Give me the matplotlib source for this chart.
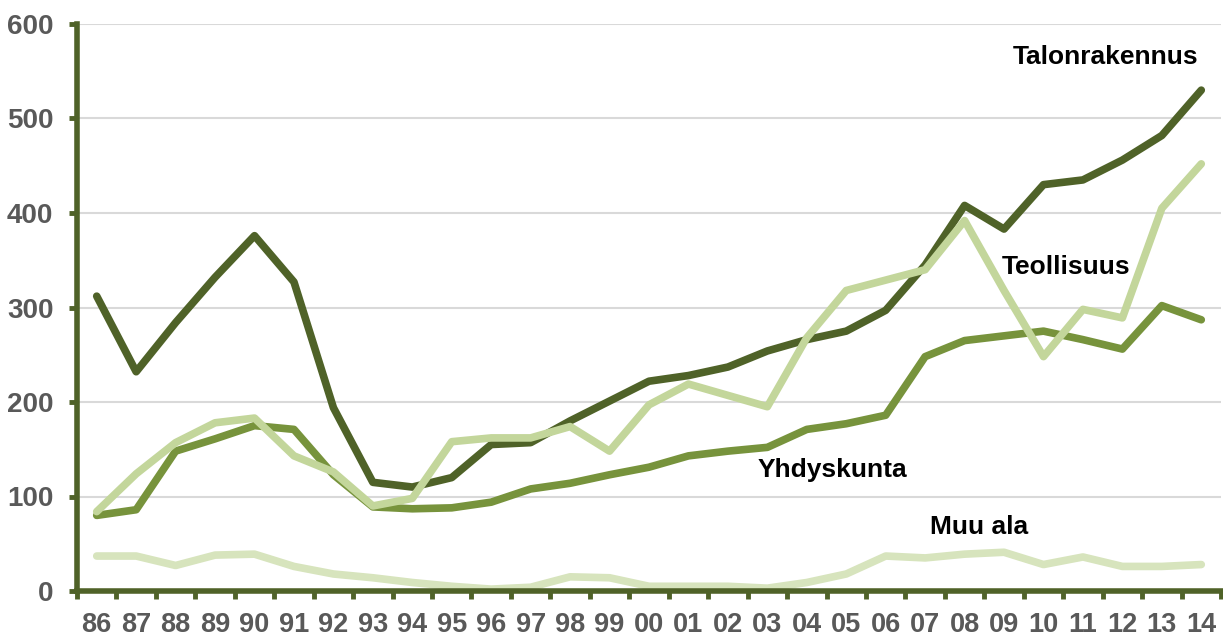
import numpy as np
import matplotlib
matplotlib.use("Agg")
import matplotlib.pyplot as plt

years = ["86", "87", "88", "89", "90", "91", "92", "93", "94", "95", "96", "97", "98", "99",
         "00", "01", "02", "03", "04", "05", "06", "07", "08", "09", "10", "11", "12", "13", "14"]

talonrakennus = [312, 232, 284, 332, 376, 327, 194, 115, 110, 120, 155, 157, 180, 201,
                 222, 228, 237, 254, 266, 275, 297, 345, 408, 383, 430, 435, 456, 482, 530]
teollisuus = [84, 124, 157, 178, 183, 143, 126, 90, 98, 158, 162, 162, 174, 148,
              197, 219, 207, 195, 268, 318, 329, 340, 392, 318, 248, 298, 289, 405, 452]
yhdyskunta = [80, 86, 148, 161, 175, 171, 123, 89, 87, 88, 94, 108, 114, 123,
              131, 143, 148, 152, 171, 177, 186, 248, 265, 270, 275, 266, 256, 302, 287]
muu_ala = [37, 37, 27, 38, 39, 26, 18, 14, 9, 5, 2, 4, 15, 14,
           5, 5, 5, 3, 9, 18, 37, 35, 39, 41, 28, 36, 26, 26, 28]

dark = "#4f6228"
medium = "#77933c"
light = "#c3d69b"
pale = "#d7e4bd"

plt.rcParams["font.family"] = ["Liberation Sans", "DejaVu Sans"]

fig = plt.figure(figsize=(12.23, 6.37), dpi=100)
ax = fig.add_axes([77 / 1223, 1 - 591 / 637, (1221 - 77) / 1223, (591 - 24) / 637])

x = np.arange(len(years))
lw = 5.5
style = dict(lw=lw, solid_capstyle="round", solid_joinstyle="round")
ax.plot(x, muu_ala, color=pale, zorder=3, **style)
ax.plot(x, yhdyskunta, color=medium, zorder=4, **style)
ax.plot(x, talonrakennus, color=dark, zorder=5, **style)
ax.plot(x, teollisuus, color=light, zorder=6, **style)

ax.set_xlim(-0.5, len(years) - 0.5)
ax.set_ylim(0, 600)
ax.set_yticks(range(0, 601, 100))
ax.yaxis.grid(True, color="#d9d9d9", lw=1.5, zorder=0)
ax.set_axisbelow(True)

ax.set_xticks(x)
ax.set_xticklabels(years)
ax.set_xticks(np.arange(-0.5, len(years), 1), minor=True)
ax.tick_params(axis="x", which="major", length=0, pad=15, labelsize=19.5, labelcolor="#595959")
ax.tick_params(axis="x", which="minor", length=6, width=3.5, color=dark, direction="out")
ax.tick_params(axis="y", length=6, width=3.5, color=dark, pad=11, labelsize=20, labelcolor="#595959")
for lab in ax.get_xticklabels() + ax.get_yticklabels():
    lab.set_fontweight("bold")

for side in ["top", "right"]:
    ax.spines[side].set_visible(False)
for side in ["left", "bottom"]:
    ax.spines[side].set_color(dark)
    ax.spines[side].set_linewidth(4)
    ax.spines[side].set_zorder(7)

label_kw = dict(fontsize=19, fontweight="bold", color="black", ha="center", va="center")
ax.text(25.58, 565, "Talonrakennus", **label_kw)
ax.text(24.58, 343, "Teollisuus", **label_kw)
ax.text(18.66, 128, "Yhdyskunta", **label_kw)
ax.text(22.36, 68, "Muu ala", **label_kw)

fig.savefig("out.png", dpi=100)
